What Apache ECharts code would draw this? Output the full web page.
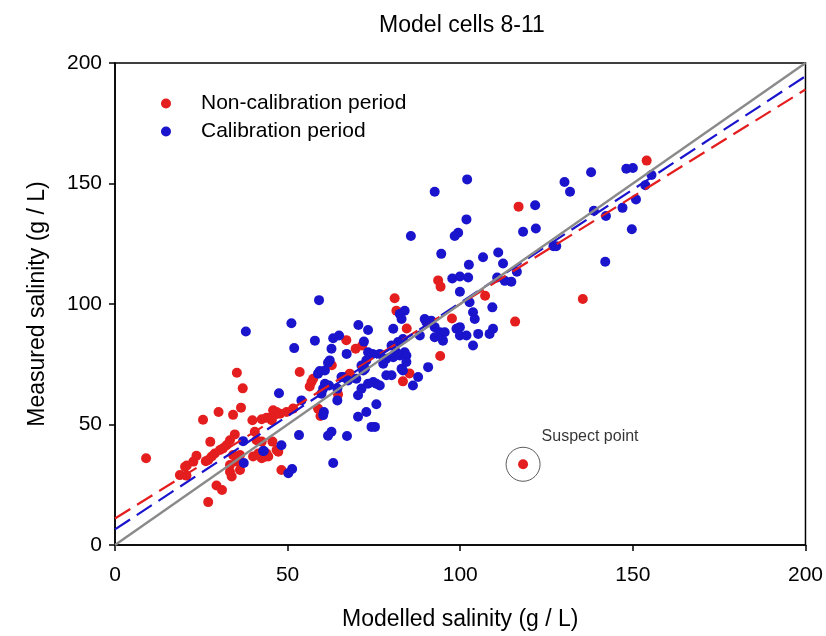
<!DOCTYPE html>
<html>
<head>
<meta charset="utf-8">
<script src="https://cdn.jsdelivr.net/npm/echarts@6/dist/echarts.min.js"></script>
<style>html,body{margin:0;padding:0;background:#fff}#c{width:826px;height:636px}</style>
</head>
<body>
<div id="c"></div>
<script>
var titleText = 'Model cells 8-11';
var xAxisName = 'Modelled salinity (g / L)';
var yAxisName = 'Measured salinity (g / L)';
var seriesNames = ['Non-calibration period', 'Calibration period'];
var suspectLabel = 'Suspect point';
var axisTicks = [0, 50, 100, 150, 200];

var nonCalibration = [
[9,36],
[35.3,71.5],[37,65],[36.5,57],[34.2,54],[30,55.2],[25.5,52],[27.6,42.8],[27,17.8],[29.4,24.7],[31,22.8],
[18.8,29],[20.7,28.8],[20.3,32.5],[20.8,33],[22.7,34.6],[23.6,37],
[26.3,34.8],[27,35.3],[28,36.7],[28.9,38],[30.4,39.4],[31.3,40.1],[32.3,41.4],[33.3,43.5],[34.7,45.9],
[33.3,30.4],[33.8,28.4],[36.2,31.1],[35.2,34.6],[33.3,33.2],[34.2,37.3],[36.2,37.3],
[39.8,51.8],[42.5,52.2],[43.9,52.8],[45.4,51.8],[45.8,55.9],[46.8,55.2],
[40.5,47],[41,43.5],[42.5,42.9],[41.5,38],[40,36.7],[42.5,36],[43.9,38],[45.6,42.9],[44.4,36.7],[46.8,39.4],
[47.3,38.7],[43.4,36.6],[48.2,31.1],
[47.8,54.5],[49.7,55.2],[51.6,56.6],[45.4,53.2],
[53.5,71.8],[56.9,67.6],[56.4,65.8],[57.4,69],[58.8,56.6],[59.5,53.5],[64.6,62.5],[62.8,74.6],[68,71.1],
[67,85],[69.7,81.4],[71.6,82.8],
[81,102.4],[81.5,97.2],[84.5,89.8],[85.3,71.2],[83.4,67.9],[94.2,78.4],[97.6,94],[93.6,109.8],[94.3,107.2],
[107.2,103.4],[115.9,92.7],[116.9,140.4],[135.5,102.1],[154,159.5],[118.2,33.5]
];

var calibration = [
[37.1,43.1],[42.9,39],[37.3,34],[47.5,63],
[37.9,88.6],[51.1,92],[59.1,101.6],[57.9,84.8],[51.9,81.7],
[70.5,91.3],[73.3,89.2],[63.2,85.8],[64.9,86.9],[72.1,84.4],
[62.7,81.4],[67.1,79.3],[62.2,76.6],[61.7,75.6],
[74.6,79.3],[72.8,76.6],[71.4,74.5],[71.9,72.4],[74.8,67.6],[73.3,66.9],[75.7,66.9],
[59.3,72.2],[58.8,71.1],[60.8,66.9],[60.3,64.9],[59.8,62.8],
[66.1,69.7],[67.5,68.3],[69.9,69],[64.4,64.9],[62,66.2],[65.6,69.7],[60.8,72.4],
[54,60],[64.4,60],[60.5,55.2],[60.3,53.9],
[70.4,62.1],[70.4,53.2],[72.8,55.2],[74.3,49],[75.3,49],[75.7,58.4],
[62.7,47],[61.7,45.3],[67.2,45.2],[53.3,45.6],[63.2,34],[48.2,41.4],[43.1,39],[51.3,31.5],[50.2,29.8],
[97.7,110.6],[99.9,111.4],[102.3,111],[99.9,105.1],[109.3,98.6],[102.7,100.7],[103.7,96.6],[104.2,93.8],
[83.9,97.2],[82.5,95.9],[83,93.8],
[89.7,93.8],[90.2,92.4],[91.6,93.1],[92.6,90.4],[94.1,88.3],[95.5,88.3],[92.6,86.2],[95,84.8],
[98.9,89.7],[99.9,90.4],[99.9,86.9],[101.8,86.9],[105.2,87.6],[103.7,82.8],[109.5,89.7],[108.5,87.6],
[80.6,89.7],[88.3,86.9],[83.4,85.5],[82,84.2],[80.1,82.8],[83.9,80],[82.5,78.6],[80.6,77.9],[78.6,77.3],
[76.7,79.3],[77.7,75.2],[84.4,78.6],[73.3,80],[72.4,73.1],[76.7,66.2],[78.6,70.4],[80.1,70.4],
[83,73.1],[83.4,72.4],[87.8,69.7],[86.3,66.2],[90.7,73.8],[71.4,64.9],[84.4,75.9],[81.5,80],
[102,151.7],[92.6,146.6],[101.8,135.1],[99.4,129.6],[98.4,128.2],[85.7,128.2],[121.7,141],[118.2,130],[121.9,131.3],
[94.5,120.8],[106.6,119.4],[111,121.4],[112.4,116.8],[102.5,116.3],[110.7,111],[112.9,109.6],[114.8,109.2],[116.4,113.4],
[137.9,154.7],[148.1,156.1],[150,156.4],[130.2,150.6],[131.8,146.6],[155.4,153.5],[153.6,149.3],[150.9,143.4],
[147,139.9],[138.7,138.7],[142.2,136.5],[149.7,131],[127,124],[127.8,124],[142,117.5]
];

var suspectPoint = [118.2, 33.5];
var nonCalibrationFit = [[0, 11], [200, 189]];
var calibrationFit = [[0, 6.5], [200, 194.5]];
var oneToOne = [[0, 0], [200, 200]];

var RED = '#e41e1e';
var BLUE = '#1a14cc';
var FONT = '"Liberation Sans", Arial, sans-serif';

var chart = echarts.init(document.getElementById('c'), null, {renderer: 'canvas'});
chart.setOption({
  backgroundColor: '#ffffff',
  animation: false,
  title: {
    text: titleText, left: 457, top: 9, textAlign: 'center',
    textStyle: {fontFamily: FONT, fontSize: 23, fontWeight: 'normal', color: '#000'}
  },
  legend: {
    data: seriesNames, orient: 'vertical', left: 156, top: 88, itemGap: 7,
    icon: 'circle', itemWidth: 10, itemHeight: 10,
    textStyle: {fontFamily: FONT, fontSize: 21, color: '#000', padding: [0, 0, 0, 25]}
  },
  grid: {left: 115, right: 20, top: 63, bottom: 89, show: true, borderColor: '#000', borderWidth: 1.5, backgroundColor: 'transparent'},
  xAxis: {
    type: 'value', min: axisTicks[0], max: axisTicks[axisTicks.length - 1], interval: 50,
    name: xAxisName, nameLocation: 'middle', nameGap: 63,
    nameTextStyle: {fontFamily: FONT, fontSize: 23, color: '#000'},
    axisLine: {show: true, lineStyle: {color: '#000', width: 1.5}},
    axisTick: {show: true, inside: false, length: 6, lineStyle: {color: '#000', width: 1.5}},
    axisLabel: {fontFamily: FONT, fontSize: 21, color: '#000', margin: 20},
    splitLine: {show: false}
  },
  yAxis: {
    type: 'value', min: axisTicks[0], max: axisTicks[axisTicks.length - 1], interval: 50,
    name: yAxisName, nameLocation: 'middle', nameGap: 66,
    nameTextStyle: {fontFamily: FONT, fontSize: 23, color: '#000'},
    axisLine: {show: true, lineStyle: {color: '#000', width: 1.5}},
    axisTick: {show: true, inside: false, length: 6, lineStyle: {color: '#000', width: 1.5}},
    axisLabel: {fontFamily: FONT, fontSize: 21, color: '#000', margin: 13},
    splitLine: {show: false}
  },
  series: [
    {name: seriesNames[0], type: 'scatter', data: nonCalibration, symbol: 'circle', symbolSize: 10, itemStyle: {color: RED, opacity: 1}, z: 2},
    {name: seriesNames[1], type: 'scatter', data: calibration, symbol: 'circle', symbolSize: 10, itemStyle: {color: BLUE, opacity: 1}, z: 2},
    {name: 'fitNon', type: 'line', data: nonCalibrationFit, showSymbol: false, symbol: 'none', z: 4,
      lineStyle: {color: RED, width: 2.2, type: [18, 8]}},
    {name: 'fitCal', type: 'line', data: calibrationFit, showSymbol: false, symbol: 'none', z: 4,
      lineStyle: {color: BLUE, width: 2.2, type: [18, 8]}},
    {name: 'oneToOne', type: 'line', data: oneToOne, showSymbol: false, symbol: 'none', z: 5,
      lineStyle: {color: '#8a8a8a', width: 2.4}},
    {name: 'suspect', type: 'scatter', data: [suspectPoint], symbol: 'circle', symbolSize: 34, z: 3,
      itemStyle: {color: 'rgba(0,0,0,0)', borderColor: '#333', borderWidth: 1},
      label: {show: true, position: 'inside', offset: [67, -28], formatter: suspectLabel,
        fontFamily: FONT, fontSize: 16, color: '#000'}}
  ]
});
</script>
</body>
</html>
